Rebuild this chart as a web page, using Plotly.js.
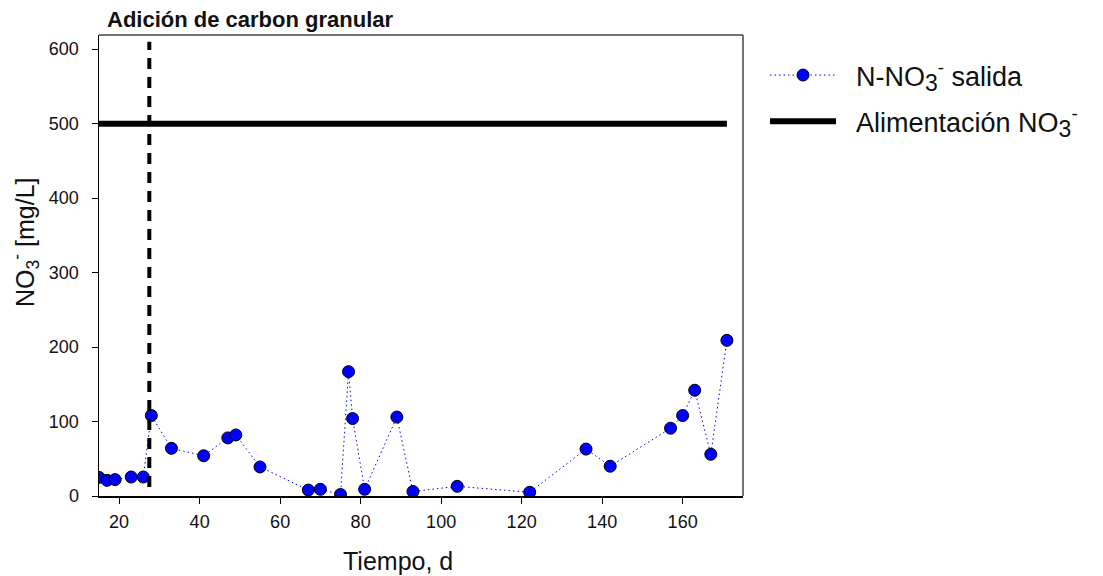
<!DOCTYPE html>
<html>
<head>
<meta charset="utf-8">
<script src="https://cdn.plot.ly/plotly-3.0.1.min.js"></script>
<style>html,body{margin:0;padding:0;background:#fff;}#chart{width:1103px;height:576px;}</style>
</head>
<body>
<div id="chart"></div>
<script>
// Data
var tiempo = [15, 17, 19, 23, 26, 28, 33, 41, 47, 49, 55, 67, 70, 75, 77, 78, 81, 89, 93, 104, 122, 136, 142, 157, 160, 163, 167, 171];
var nitratoSalida = [25, 21, 22, 25.5, 25.5, 108, 64, 54, 78, 82, 39, 8, 9, 2, 167, 104, 9, 106, 6, 13, 5, 63, 40, 91, 108, 142, 56, 209];
var alimentacionX = [15, 171];
var alimentacionY = [500, 500];
var carbonX = [27.5, 27.5];
var carbonY = [12, 610];
var xTicks = [20, 40, 60, 80, 100, 120, 140, 160];
var yTicks = [0, 100, 200, 300, 400, 500, 600];

var font = "Liberation Sans, Arial, sans-serif";
var nb = '\u00a0\u00a0';
var no3 = 'NO<sub><span style="font-size:23px">3</span></sub><sup>-</sup>';

var traces = [
  {
    x: tiempo, y: nitratoSalida, mode: 'lines+markers', type: 'scatter',
    name: nb + 'N-' + no3 + ' salida', legendgroup: 'a',
    line: {color: '#0000ff', width: 1, dash: '1.5px,3px'},
    marker: {color: '#0000ff', size: 12, line: {color: '#000', width: 1}}
  },
  {
    x: alimentacionX, y: alimentacionY, mode: 'lines', type: 'scatter',
    name: nb + 'Alimentación ' + no3, legendgroup: 'b',
    line: {color: '#000', width: 6}
  },
  {
    x: carbonX, y: carbonY, mode: 'lines', type: 'scatter', showlegend: false,
    line: {color: '#000', width: 4, dash: '11px,8px'}
  }
];

var layout = {
  width: 1103, height: 576,
  margin: {l: 99, r: 360, t: 35, b: 80},
  paper_bgcolor: '#fff', plot_bgcolor: '#fff',
  font: {family: font, color: '#000', size: 18},
  title: {text: '<b>Adición de carbon granular</b>', x: 107/1103, xanchor: 'left', xref: 'container',
          y: 1 - 19/576, yanchor: 'middle', yref: 'container', font: {family: font, size: 22, color: '#111'}},
  xaxis: {
    range: [15, 175], tickvals: xTicks, ticks: 'outside', ticklen: 6, tickwidth: 1, tickcolor: '#000',
    showgrid: false, zeroline: false, showline: true, linecolor: '#000', linewidth: 1.5, mirror: false,
    tickfont: {size: 18, color: '#111'}, ticklabelstandoff: 3
  },
  yaxis: {
    range: [0, 619], tickvals: yTicks, ticks: 'outside', ticklen: 6, tickwidth: 1, tickcolor: '#000',
    showgrid: false, zeroline: false, showline: true, linecolor: '#000', linewidth: 1.5, mirror: false,
    tickfont: {size: 18, color: '#111'}, ticklabelstandoff: 9
  },
  shapes: [
    {type: 'line', xref: 'paper', yref: 'paper', x0: 0, x1: 1, y0: 1, y1: 1, line: {color: '#444', width: 1.5}},
    {type: 'line', xref: 'paper', yref: 'paper', x0: 1, x1: 1, y0: 0, y1: 1, line: {color: '#444', width: 1.5}}
  ],
  annotations: [
    {text: 'Tiempo, d', xref: 'paper', yref: 'paper', x: (398 - 99) / 644, y: (496 - 561) / 461,
     xanchor: 'center', yanchor: 'middle', showarrow: false, font: {size: 25, color: '#111'}},
    {text: 'NO<sub>3</sub><sup>-</sup> [mg/L]', xref: 'paper', yref: 'paper', x: (25 - 99) / 644, y: (496 - 243) / 461,
     xanchor: 'center', yanchor: 'middle', textangle: -90, showarrow: false, font: {size: 25, color: '#111'}}
  ],
  legend: {
    x: 765/1103, xref: 'container', xanchor: 'left', y: 1 - 51/576, yref: 'container', yanchor: 'top',
    font: {size: 27, family: font, color: '#111'}, itemwidth: 66, traceorder: 'grouped', tracegroupgap: 8,
    bgcolor: 'rgba(0,0,0,0)'
  },
  showlegend: true
};

Plotly.newPlot('chart', traces, layout, {displayModeBar: false, staticPlot: true});
</script>
</body>
</html>
